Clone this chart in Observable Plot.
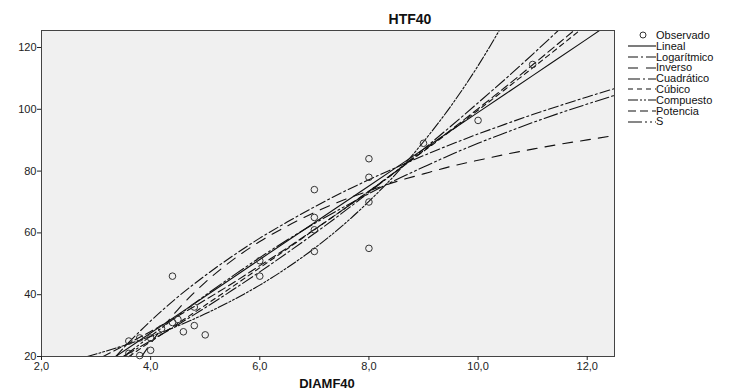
<!DOCTYPE html>
<html><head><meta charset="utf-8">
<script src="https://cdn.jsdelivr.net/npm/d3@7"></script>
<script src="https://cdn.jsdelivr.net/npm/@observablehq/plot@0.6"></script>
<style>
body{margin:0;background:#fff;font-family:"Liberation Sans",Arial,sans-serif;color:#111}
#wrap{position:relative;width:730px;height:391px}
#title{position:absolute;left:350px;top:11px;width:120px;text-align:center;font-weight:bold;font-size:14px}
#xlab{position:absolute;left:267px;top:376px;width:120px;text-align:center;font-weight:bold;font-size:13px}
#legend{position:absolute;left:626px;top:30px;font-size:11px;line-height:10.8px}
.row{height:10.8px;display:flex;align-items:center;white-space:nowrap}
.row svg{width:30px;height:10px;flex:none}
</style></head><body>
<div id="wrap">
  <div id="chart"></div>
  <div id="title">HTF40</div>
  <div id="xlab">DIAMF40</div>
  <div id="legend"></div>
</div>
<script>
// Observed data
const obsX = [3.6,3.8,4.0,4.0,3.6,3.8,4.2,4.4,4.5,4.4,4.6,4.8,4.8,5.0,6.0,6.0,7,7,7,7,8,8,8,8,9,10,11];
const obsY = [25,26,22,26,21,20.3,29,31,32,46,28,30,36,27,51,46,74,65,61,54,84,78,70,55,89,96.4,114.5];

// Fitted curves
const linX = [3.36,4,5,6,7,8,9,10,11,12,12.5];
const linY = [20,27.6,39.5,51.4,63.3,75.2,87.1,99.0,110.9,122.8,128.8];

const logX = [3.36,3.5,4,4.5,5,5.5,6,6.5,7,7.5,8,8.5,9,9.5,10,10.5,11,11.5,12,12.5];
const logY = [20,22.7,31.5,39.3,46.2,52.5,58.3,63.5,68.4,73.0,77.2,81.2,85.0,88.6,92.0,95.2,98.3,101.2,104.0,106.7];

const invX = [3.84,4,4.5,5,5.5,6,6.5,7,7.5,8,8.5,9,9.5,10,10.5,11,11.5,12,12.5];
const invY = [20.1,24.2,35.2,44.0,51.2,57.2,62.2,66.6,70.4,73.6,76.6,79.1,81.5,83.5,85.4,87.1,88.7,90.1,91.5];

const quaX = [3.5,4,4.5,5,5.5,6,6.5,7,7.5,8,8.5,9,9.5,10,10.5,11,11.5,12];
const quaY = [20,25.1,30.3,35.8,41.5,47.4,53.5,59.8,66.3,73.1,80,87.1,94.5,102.1,109.8,117.8,126.0,134.4];

const cubX = [3.6,4,4.5,5,5.5,6,6.5,7,7.5,8,8.5,9,9.5,10,10.5,11,11.5,12,12.5];
const cubY = [20,24.8,30.7,36.6,42.6,48.7,54.8,61.0,67.2,73.5,79.9,86.4,93.0,99.7,106.5,113.4,120.4,127.5,134.7];

const comX = [2.84,3,3.5,4,4.5,5,5.5,6,6.5,7,7.5,8,8.5,9,9.5,10,10.5];
const comY = [20,20.8,23.5,26.5,29.9,33.8,38.2,43.1,48.7,55.0,62.1,70.2,79.2,89.5,101.0,114.1,128.9];

const powX = [3.13,3.5,4,4.5,5,5.5,6,6.5,7,7.5,8,8.5,9,9.5,10,10.5,11,11.5,12];
const powY = [20,23.4,28.1,33.1,38.3,43.7,49.4,55.1,61.1,67.2,73.5,80,86.6,93.3,100.2,107.2,114.4,121.7,129.1];

const sX = [3.5,4,4.5,5,5.5,6,6.5,7,7.5,8,8.5,9,9.5,10,10.5,11,11.5,12,12.5];
const sY = [19.95,26.6,33.2,39.8,46.0,52.0,57.7,63.0,68.0,72.7,77.2,81.3,85.3,89.0,92.4,95.7,98.8,101.7,104.5];

const seriesNames = ["Lineal","Logarítmico","Inverso","Cuadrático","Cúbico","Compuesto","Potencia","S"];
const dashes = ["none","10,3,2,3","10,8","12,3,2,3","5,4","10,2,2,2,2,2","8,4","14,3,2,3,2,3"];
const curveData = [[linX,linY],[logX,logY],[invX,invY],[quaX,quaY],[cubX,cubY],[comX,comY],[powX,powY],[sX,sY]];

const xTicks = [2,4,6,8,10,12];
const yTicks = [20,40,60,80,100,120];

const obs = obsX.map((x,i)=>({x, y: obsY[i]}));
const lineMarks = curveData.map(([xs,ys],k) =>
  Plot.line(xs.map((x,i)=>({x, y: ys[i]})), {x:"x", y:"y", stroke:"#111", strokeWidth:1.1,
    strokeDasharray: dashes[k], clip:true, curve:"monotone-x"}));

const chart = Plot.plot({
  width:730, height:391, marginLeft:41, marginRight:116, marginTop:30, marginBottom:35,
  x:{domain:[2,12.5]}, y:{domain:[20,125.5]},
  style:{fontFamily:"Liberation Sans, Arial, sans-serif", fontSize:"11px", color:"#222", background:"transparent", overflow:"visible"},
  marks:[
    Plot.frame({fill:"#f0f0f0", stroke:"none"}),
    ...lineMarks,
    Plot.dot(obs, {x:"x", y:"y", r:3.3, stroke:"#333", strokeWidth:1, fill:"none"}),
    Plot.frame({stroke:"#444", strokeWidth:1}),
    Plot.axisX({ticks:xTicks, tickFormat:d=>d.toFixed(1).replace(".",","), tickSize:4, tickPadding:2, label:null}),
    Plot.axisY({ticks:yTicks, tickSize:4, tickPadding:1, label:null})
  ]
});
document.getElementById("chart").appendChild(chart);

// Legend
const leg = document.getElementById("legend");
const r0 = document.createElement("div"); r0.className="row";
r0.innerHTML = `<svg viewBox="0 0 30 10"><circle cx="17" cy="5" r="3" fill="none" stroke="#333"/></svg><span>Observado</span>`;
leg.appendChild(r0);
seriesNames.forEach((n,k)=>{
  const r = document.createElement("div"); r.className="row";
  r.innerHTML = `<svg viewBox="0 0 30 10"><line x1="2" x2="30" y1="5" y2="5" stroke="#111" stroke-width="1.1" stroke-dasharray="${dashes[k]}"/></svg><span>${n}</span>`;
  leg.appendChild(r);
});
</script>
</body></html>
